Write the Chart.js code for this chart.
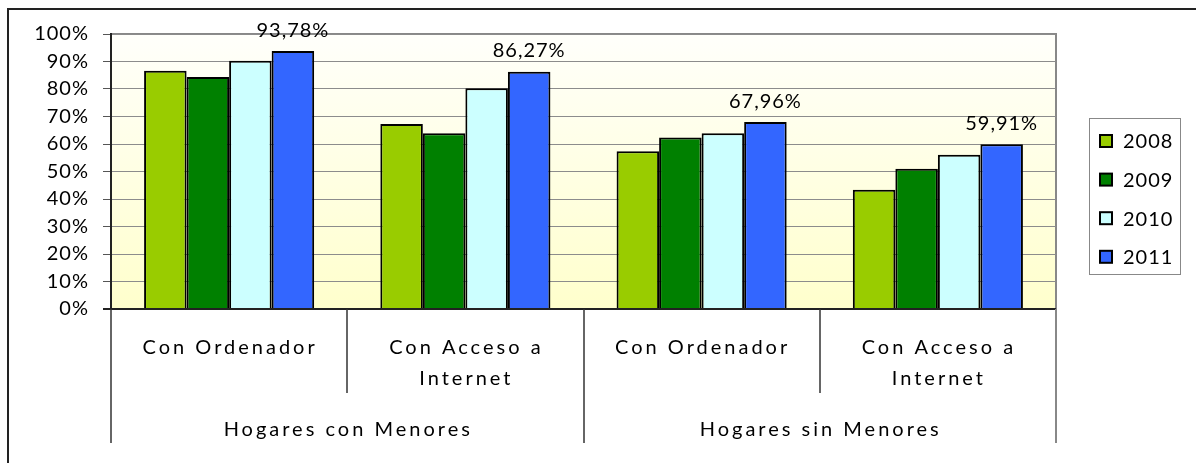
<!DOCTYPE html>
<html lang="es">
<head>
    <meta charset="UTF-8">
    <title>Hogares con ordenador y acceso a Internet</title>
    <script src="https://cdn.jsdelivr.net/npm/chart.js"></script>
    <style>
        body { margin: 0; background: #fff; }
        #contenedor { width: 1196px; height: 463px; }
    </style>
</head>
<body>
<div id="contenedor">
    <canvas id="grafico" width="1196" height="463"></canvas>
</div>
<script>
// datos del gráfico
var categorias = [['Con Ordenador'], ['Con Acceso a', 'Internet'], ['Con Ordenador'], ['Con Acceso a', 'Internet']];
var grupos = ['Hogares con Menores', 'Hogares sin Menores'];
var anios = ['2008', '2009', '2010', '2011'];
var valores2008 = [86.6, 67.3, 57.4, 43.4];
var valores2009 = [84.4, 63.9, 62.4, 51.0];
var valores2010 = [90.3, 80.3, 63.9, 56.1];
var valores2011 = [93.78, 86.27, 67.96, 59.91];
var colores = ['#99cc00', '#008000', '#ccffff', '#3366ff'];

var fuente = 'Lato, "Open Sans", sans-serif';

// fondo, marco exterior y área de trazado
var fondoPlugin = {
    id: 'fondo',
    beforeDraw: function (chart) {
        var ctx = chart.ctx, a = chart.chartArea;
        ctx.save();
        ctx.fillStyle = '#fff';
        ctx.fillRect(0, 0, chart.width, chart.height);
        // marco (solo arriba e izquierda visibles)
        ctx.strokeStyle = '#222';
        ctx.lineWidth = 2;
        ctx.beginPath();
        ctx.moveTo(8, chart.height + 2);
        ctx.lineTo(8, 9);
        ctx.lineTo(chart.width + 2, 9);
        ctx.stroke();
        // degradado
        var g = ctx.createLinearGradient(0, a.top, 0, a.bottom);
        g.addColorStop(0, '#fffffb');
        g.addColorStop(1, '#ffffcc');
        ctx.fillStyle = g;
        ctx.fillRect(a.left, a.top, a.right - a.left, a.bottom - a.top);
        ctx.strokeStyle = '#888';
        ctx.lineWidth = 2;
        ctx.beginPath();
        ctx.moveTo(a.left, a.top);
        ctx.lineTo(a.right, a.top);
        ctx.lineTo(a.right, a.bottom);
        ctx.stroke();
        ctx.restore();
        chart.ctx.letterSpacing = '1px';
    }
};

// etiquetas del eje X en dos niveles, valores de 2011 y leyenda
var etiquetasPlugin = {
    id: 'etiquetas',
    afterDatasetsDraw: function (chart) {
        var ctx = chart.ctx;
        var meta = chart.getDatasetMeta(3);
        ctx.save();
        ctx.font = '20px ' + fuente;
        ctx.letterSpacing = '1px';
        ctx.fillStyle = '#000';
        ctx.textAlign = 'center';
        ctx.textBaseline = 'middle';
        meta.data.forEach(function (bar, i) {
            var t = valores2011[i].toFixed(2).replace('.', ',') + '%';
            ctx.fillText(t, bar.x, bar.y - 21);
        });
        ctx.restore();
    },
    afterDraw: function (chart) {
        var ctx = chart.ctx, a = chart.chartArea, x = chart.scales.x;
        var n = categorias.length;
        var cw = (a.right - a.left) / n;
        ctx.save();
        // línea base
        ctx.strokeStyle = '#222';
        ctx.lineWidth = 2;
        ctx.beginPath();
        ctx.moveTo(a.left - 8, a.bottom);
        ctx.lineTo(a.right, a.bottom);
        ctx.stroke();
        // divisiones
        for (var i = 0; i <= n; i++) {
            var px = Math.round(a.left + i * cw);
            var largo = (i % 2 === 0);
            ctx.strokeStyle = (i === n) ? '#888' : '#333';
            ctx.lineWidth = (i === n) ? 2 : 1.5;
            ctx.beginPath();
            ctx.moveTo(px, a.bottom);
            ctx.lineTo(px, largo ? 443 : 393);
            ctx.stroke();
        }
        ctx.font = '20px ' + fuente;
        ctx.letterSpacing = '3px';
        ctx.fillStyle = '#000';
        ctx.textAlign = 'center';
        ctx.textBaseline = 'middle';
        categorias.forEach(function (lineas, i) {
            var cx = x.getPixelForValue(i);
            lineas.forEach(function (l, j) {
                ctx.fillText(l, cx + 1, 348 + j * 31);
            });
        });
        grupos.forEach(function (g, k) {
            var cx = a.left + (k * 2 + 1) * cw;
            ctx.fillText(g, cx + 1, 430);
        });
        // leyenda
        ctx.letterSpacing = '1px';
        ctx.strokeStyle = '#888';
        ctx.lineWidth = 1;
        ctx.strokeRect(1089.5, 118.5, 91, 156);
        ctx.textAlign = 'left';
        chart.data.datasets.forEach(function (ds, i) {
            var yc = 141 + i * 38.6;
            ctx.fillStyle = ds.backgroundColor;
            ctx.fillRect(1100, yc - 6, 12, 12);
            ctx.strokeStyle = '#000';
            ctx.lineWidth = 2;
            ctx.strokeRect(1100, yc - 6, 12, 12);
            ctx.fillStyle = '#000';
            ctx.fillText(ds.label, 1123, yc + 1);
        });
        ctx.restore();
    }
};

var series = [valores2008, valores2009, valores2010, valores2011];

new Chart(document.getElementById('grafico'), {
    type: 'bar',
    data: {
        labels: categorias.map(function (c) { return c.join(' '); }),
        datasets: anios.map(function (a, i) {
            return {
                label: a,
                data: series[i],
                backgroundColor: colores[i],
                borderColor: '#000',
                borderWidth: 2,
                barPercentage: 1.0,
                categoryPercentage: 0.72
            };
        })
    },
    options: {
        responsive: false,
        animation: false,
        layout: { padding: { left: 0, top: 34, right: 140, bottom: 154 } },
        plugins: {
            legend: { display: false },
            tooltip: { enabled: false }
        },
        scales: {
            x: { display: false },
            y: {
                min: 0,
                max: 100,
                afterFit: function (s) { s.width = 111; },
                ticks: {
                    stepSize: 10,
                    padding: 14,
                    color: '#000',
                    font: { family: fuente, size: 20 },
                    callback: function (v) { return v + '%'; }
                },
                grid: { color: '#8c8c8c', lineWidth: 1, tickLength: 8, tickColor: '#555' },
                border: { color: '#222', width: 2 }
            }
        }
    },
    plugins: [fondoPlugin, etiquetasPlugin]
});
</script>
</body>
</html>
